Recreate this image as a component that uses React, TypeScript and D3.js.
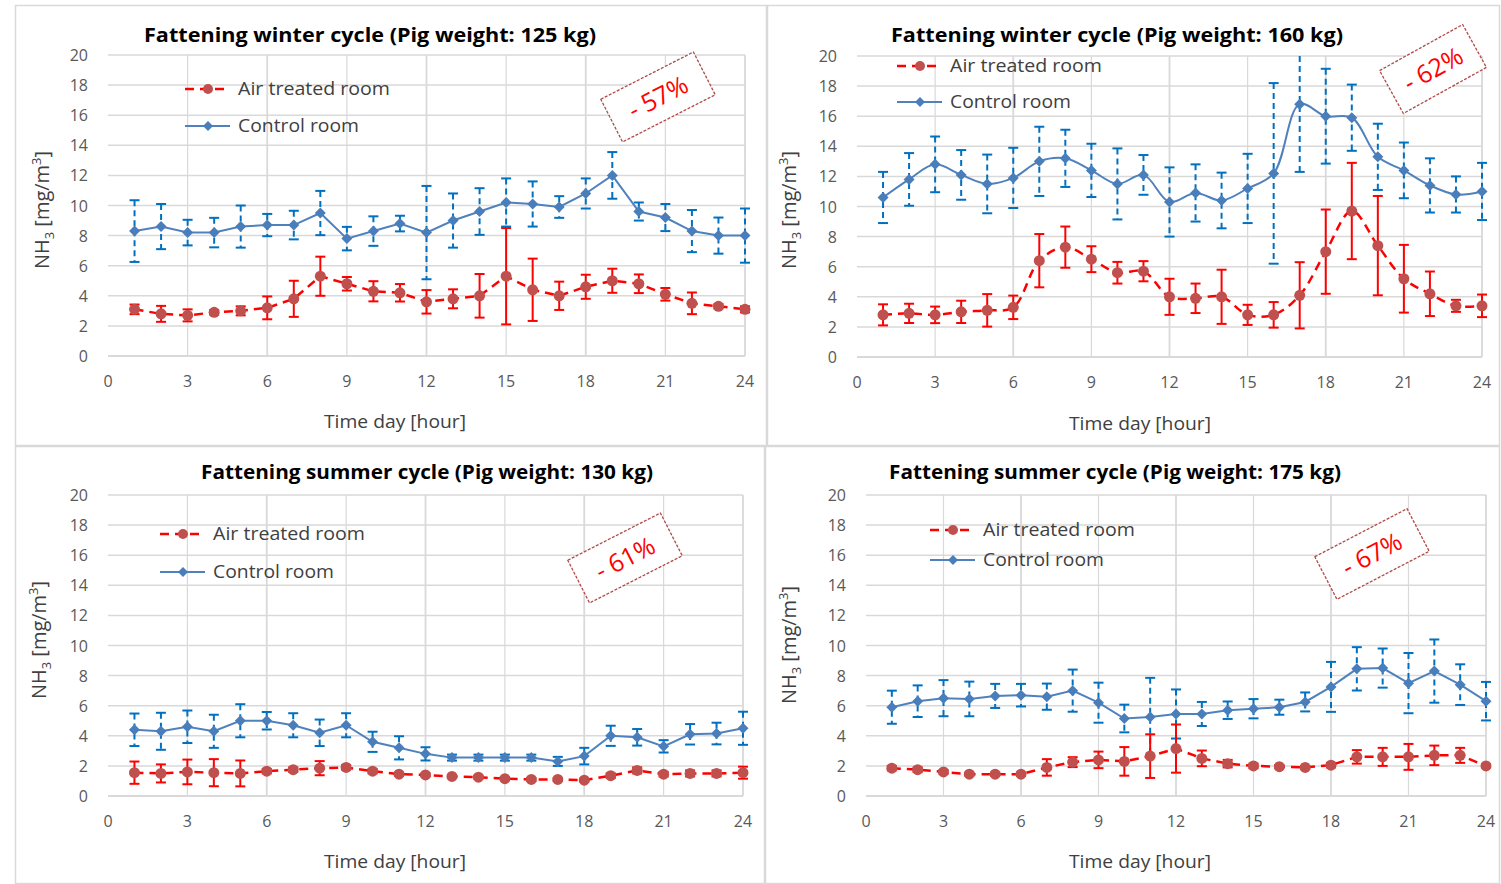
import React from 'react';
import * as d3 from 'd3';

const hours = [1, 2, 3, 4, 5, 6, 7, 8, 9, 10, 11, 12, 13, 14, 15, 16, 17, 18, 19, 20, 21, 22, 23, 24];
const xTicks = [0, 3, 6, 9, 12, 15, 18, 21, 24];
const yTicks = [0, 2, 4, 6, 8, 10, 12, 14, 16, 18, 20];

// winter 125 kg
const w125Treated = [3.1, 2.8, 2.7, 2.9, 3.0, 3.2, 3.8, 5.3, 4.8, 4.3, 4.2, 3.6, 3.8, 4.0, 5.3, 4.4, 4.0, 4.6, 5.0, 4.8, 4.1, 3.5, 3.3, 3.1];
const w125TreatedErr = [0.32, 0.53, 0.4, 0.15, 0.3, 0.76, 1.2, 1.3, 0.45, 0.67, 0.58, 0.78, 0.63, 1.45, 3.2, 2.07, 0.94, 0.8, 0.8, 0.62, 0.42, 0.72, 0.15, 0.2];
const w125Control = [8.3, 8.6, 8.2, 8.2, 8.6, 8.7, 8.7, 9.5, 7.8, 8.3, 8.8, 8.2, 9.0, 9.6, 10.2, 10.1, 9.9, 10.8, 12.0, 9.6, 9.2, 8.3, 8.0, 8.0];
const w125ControlErr = [2.05, 1.5, 0.85, 0.98, 1.4, 0.74, 0.95, 1.47, 0.78, 0.98, 0.52, 3.1, 1.8, 1.55, 1.6, 1.5, 0.72, 1.0, 1.55, 0.6, 0.9, 1.4, 1.2, 1.8];

// winter 160 kg
const w160Treated = [2.8, 2.9, 2.8, 3.0, 3.1, 3.3, 6.4, 7.3, 6.5, 5.6, 5.7, 4.0, 3.9, 4.0, 2.8, 2.8, 4.1, 7.0, 9.7, 7.4, 5.2, 4.2, 3.4, 3.4];
const w160TreatedErr = [0.7, 0.64, 0.55, 0.74, 1.08, 0.78, 1.77, 1.37, 0.86, 0.72, 0.67, 1.2, 0.98, 1.8, 0.67, 0.85, 2.2, 2.8, 3.2, 3.3, 2.25, 1.48, 0.4, 0.75];
const w160Control = [10.6, 11.8, 12.8, 12.1, 11.5, 11.9, 13.0, 13.2, 12.4, 11.5, 12.1, 10.3, 10.9, 10.4, 11.2, 12.2, 16.8, 16.0, 15.9, 13.3, 12.4, 11.4, 10.8, 11.0];
const w160ControlErr = [1.7, 1.75, 1.85, 1.65, 1.95, 2.0, 2.3, 1.9, 1.77, 2.36, 1.32, 2.3, 1.9, 1.85, 2.3, 6.0, 4.5, 3.15, 2.2, 2.2, 1.85, 1.8, 1.2, 1.9];

// summer 130 kg
const s130Treated = [1.55, 1.5, 1.6, 1.55, 1.5, 1.65, 1.75, 1.85, 1.9, 1.65, 1.45, 1.4, 1.3, 1.25, 1.15, 1.1, 1.1, 1.05, 1.35, 1.7, 1.45, 1.5, 1.5, 1.55];
const s130TreatedErr = [0.74, 0.6, 0.82, 0.9, 0.86, 0.15, 0.15, 0.47, 0.15, 0.15, 0.1, 0.1, 0.1, 0.1, 0.1, 0.1, 0.1, 0.1, 0.15, 0.2, 0.15, 0.2, 0.2, 0.4];
const s130Control = [4.4, 4.3, 4.6, 4.3, 5.0, 5.0, 4.7, 4.2, 4.7, 3.6, 3.2, 2.8, 2.55, 2.55, 2.55, 2.55, 2.3, 2.65, 4.0, 3.9, 3.3, 4.1, 4.15, 4.5];
const s130ControlErr = [1.08, 1.23, 1.08, 1.1, 1.1, 0.58, 0.8, 0.88, 0.8, 0.67, 0.77, 0.44, 0.2, 0.2, 0.2, 0.2, 0.3, 0.55, 0.67, 0.55, 0.41, 0.68, 0.72, 1.1];

// summer 175 kg
const s175Treated = [1.85, 1.75, 1.6, 1.45, 1.45, 1.45, 1.9, 2.25, 2.4, 2.3, 2.65, 3.15, 2.5, 2.15, 2.0, 1.95, 1.9, 2.05, 2.6, 2.6, 2.6, 2.7, 2.7, 2.0];
const s175TreatedErr = [0.15, 0.15, 0.12, 0.1, 0.1, 0.1, 0.55, 0.33, 0.55, 0.95, 1.45, 1.6, 0.52, 0.25, 0.15, 0.1, 0.1, 0.15, 0.45, 0.6, 0.86, 0.65, 0.5, 0.1];
const s175Control = [5.9, 6.3, 6.5, 6.45, 6.65, 6.7, 6.6, 7.0, 6.2, 5.15, 5.25, 5.45, 5.45, 5.7, 5.8, 5.9, 6.25, 7.25, 8.45, 8.5, 7.5, 8.3, 7.4, 6.3];
const s175ControlErr = [1.1, 1.05, 1.2, 1.15, 0.8, 0.75, 0.87, 1.4, 1.33, 0.92, 2.6, 1.63, 0.8, 0.58, 0.64, 0.5, 0.63, 1.66, 1.44, 1.3, 2.0, 2.1, 1.35, 1.28];

const titles = [
  'Fattening winter cycle (Pig weight: 125 kg)',
  'Fattening winter cycle (Pig weight: 160 kg)',
  'Fattening summer cycle (Pig weight: 130 kg)',
  'Fattening summer cycle (Pig weight: 175 kg)',
];
const reductions = ['- 57%', '- 62%', '- 61%', '- 67%'];
const seriesNames = ['Air treated room', 'Control room'];

const FONT = '"Open Sans", Lato, sans-serif';
const RED = '#ff0000';
const RED_MARK = '#c0504d';
const BLUE = '#4f81bd';
const BLUE_ERR = '#0070c0';

const panels = [
  {
    frame: [15, 5, 752, 441], plot: [108, 745, 356, 55], title: [370, 42],
    legend: [185, 89, 126], ylab: [43, 210], xlab: [395, 428],
    note: [658, 97, -27, 104, 48], smooth: false,
    treated: w125Treated, treatedErr: w125TreatedErr, control: w125Control, controlErr: w125ControlErr,
  },
  {
    frame: [767, 5, 733, 441], plot: [857, 1482, 357, 56], title: [1117, 42],
    legend: [897, 66, 102], ylab: [790, 210], xlab: [1140, 430],
    note: [1433, 69, -29, 95, 49], smooth: true,
    treated: w160Treated, treatedErr: w160TreatedErr, control: w160Control, controlErr: w160ControlErr,
  },
  {
    frame: [15, 446, 750, 438], plot: [108, 743, 796, 495], title: [427, 479],
    legend: [160, 534, 572], ylab: [40, 640], xlab: [395, 868],
    note: [625, 558, -27, 104, 48], smooth: false,
    treated: s130Treated, treatedErr: s130TreatedErr, control: s130Control, controlErr: s130ControlErr,
  },
  {
    frame: [765, 446, 735, 438], plot: [866, 1486, 796, 495], title: [1115, 479],
    legend: [930, 530, 560], ylab: [790, 645], xlab: [1140, 868],
    note: [1372, 554, -27.5, 104, 48], smooth: false,
    treated: s175Treated, treatedErr: s175TreatedErr, control: s175Control, controlErr: s175ControlErr,
  },
];

function Diamond({ x, y, r = 5.5 }: { x: number; y: number; r?: number }) {
  return <path d={`M${x},${y - r}L${x + r},${y}L${x},${y + r}L${x - r},${y}Z`} fill="#4a7ebb" />;
}

function Panel({ p, i }: { p: any; i: number }) {
  const [fx, fy, fw, fh] = p.frame;
  const [x0, x1, y0, y1] = p.plot;
  const x = d3.scaleLinear().domain([0, 24]).range([x0, x1]);
  const y = d3.scaleLinear().domain([0, 20]).range([y0, y1]).clamp(true);
  const curve = p.smooth ? d3.curveCatmullRom.alpha(0.5) : d3.curveLinear;
  const line = d3.line<number>().x((_, k) => x(hours[k])).y((d) => y(d)).curve(curve);
  const cap = 5;

  const errBars = (vals: number[], errs: number[], color: string, dash?: string) =>
    hours.map((h, k) => {
      const cx = x(h);
      const hiV = vals[k] + errs[k];
      const top = y(hiV);
      const bot = y(vals[k] - errs[k]);
      return (
        <g key={k} stroke={color} strokeWidth={2}>
          <line x1={cx} x2={cx} y1={top} y2={bot} strokeDasharray={dash} />
          {hiV <= 20 && <line x1={cx - cap} x2={cx + cap} y1={top} y2={top} />}
          <line x1={cx - cap} x2={cx + cap} y1={bot} y2={bot} />
        </g>
      );
    });

  const [lx, ly1, ly2] = p.legend;
  const [nx, ny, na, nw, nh] = p.note;

  return (
    <g fontFamily={FONT}>
      <rect x={fx + 0.5} y={fy + 0.5} width={fw - 1} height={fh - 1} fill="#fff" stroke="#d9d9d9" strokeWidth={1.5} />
      {/* grid */}
      {yTicks.map((t) => (
        <line key={'gy' + t} x1={x0} x2={x1} y1={y(t)} y2={y(t)} stroke="#d9d9d9" strokeWidth={t === 0 ? 2 : 1.5} />
      ))}
      {xTicks.filter((t) => t > 0).map((t) => (
        <line key={'gx' + t} x1={x(t)} x2={x(t)} y1={y(20)} y2={y(0)} stroke="#d9d9d9" strokeWidth={t % 6 === 0 ? 1.8 : 1.2} />
      ))}
      {/* tick labels */}
      {yTicks.map((t) => (
        <text key={'ty' + t} x={x0 - 20} y={y(t) + 6} textAnchor="end" fontSize={16} fill="#595959">{t}</text>
      ))}
      {xTicks.map((t) => (
        <text key={'tx' + t} x={x(t)} y={y0 + 31} textAnchor="middle" fontSize={16} fill="#595959">{t}</text>
      ))}
      {/* titles */}
      <text x={p.title[0]} y={p.title[1]} textAnchor="middle" fontSize={19} fontWeight="bold" fill="#000"
        textLength={452} lengthAdjust="spacingAndGlyphs">{titles[i]}</text>
      <text x={p.xlab[0]} y={p.xlab[1]} textAnchor="middle" fontSize={18} fill="#404040"
        textLength={142} lengthAdjust="spacingAndGlyphs">Time day [hour]</text>
      <text transform={`translate(${p.ylab[0] + 6},${p.ylab[1]}) rotate(-90)`} textAnchor="middle" fontSize={20} fill="#404040">
        NH<tspan fontSize={13} dy={5}>3</tspan>
        <tspan dy={-5}> [mg/m</tspan>
        <tspan fontSize={13} dy={-8}>3</tspan>
        <tspan dy={8}>]</tspan>
      </text>
      {/* error bars */}
      {errBars(p.control, p.controlErr, BLUE_ERR, '6,4')}
      {errBars(p.treated, p.treatedErr, RED)}
      {/* lines */}
      <path d={line(p.control) ?? ''} fill="none" stroke={BLUE} strokeWidth={2} />
      <path d={line(p.treated) ?? ''} fill="none" stroke={RED} strokeWidth={2.5} strokeDasharray="9,6" />
      {hours.map((h, k) => (
        <Diamond key={'d' + k} x={x(h)} y={y(p.control[k])} />
      ))}
      {hours.map((h, k) => (
        <circle key={'c' + k} cx={x(h)} cy={y(p.treated[k])} r={5.5} fill={RED_MARK} />
      ))}
      {/* legend */}
      <line x1={lx} x2={lx + 45} y1={ly1} y2={ly1} stroke={RED} strokeWidth={2.5} strokeDasharray="9,6" />
      <circle cx={lx + 23} cy={ly1} r={5} fill={RED_MARK} />
      <text x={lx + 53} y={ly1 + 6} fontSize={18} fill="#404040" textLength={152} lengthAdjust="spacingAndGlyphs">{seriesNames[0]}</text>
      <line x1={lx} x2={lx + 45} y1={ly2} y2={ly2} stroke={BLUE} strokeWidth={2} />
      <Diamond x={lx + 23} y={ly2} r={5} />
      <text x={lx + 53} y={ly2 + 6} fontSize={18} fill="#404040" textLength={121} lengthAdjust="spacingAndGlyphs">{seriesNames[1]}</text>
      {/* annotation */}
      <g transform={`translate(${nx},${ny}) rotate(${na})`}>
        <rect x={-nw / 2} y={-nh / 2} width={nw} height={nh} fill="#fff" stroke="#b04a48" strokeWidth={1.3} strokeDasharray="3,1.5" />
        <text x={0} y={9} textAnchor="middle" fontSize={25} fill={RED}>{reductions[i]}</text>
      </g>
    </g>
  );
}

export default function App() {
  return (
    <svg width={1501} height={884} style={{ position: 'absolute', left: 0, top: 0, background: '#fff' }}>
      <rect width={1501} height={884} fill="#fff" />
      {panels.map((p, i) => (
        <Panel key={i} p={p} i={i} />
      ))}
    </svg>
  );
}
